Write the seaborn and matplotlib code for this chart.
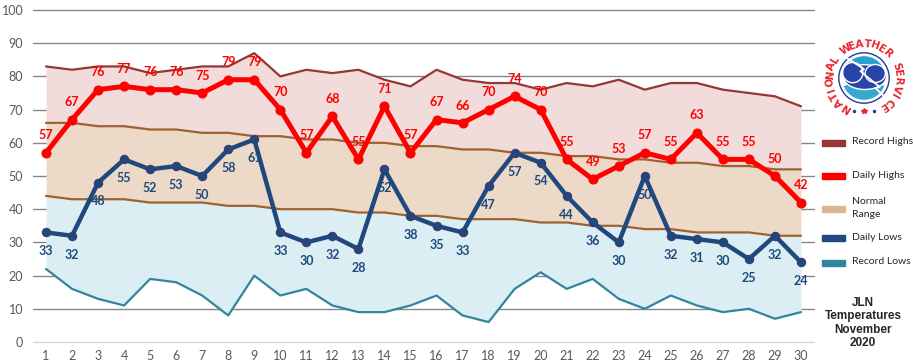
import numpy as np
import pandas as pd
import seaborn as sns
import matplotlib.pyplot as plt
from matplotlib.patches import Circle, Rectangle, Ellipse, Wedge

# Data (JLN, November 2020)
days = list(range(1, 31))
record_highs = [83, 82, 83, 83, 81, 82, 83, 83, 87, 80, 82, 81, 82, 79, 77,
                82, 79, 78, 78, 76, 78, 77, 79, 76, 78, 78, 76, 75, 74, 71]
normal_highs = [66, 66, 65, 65, 64, 64, 63, 63, 62, 62, 61, 61, 60, 60, 59,
                59, 58, 58, 57, 57, 56, 56, 55, 55, 54, 54, 53, 53, 52, 52]
normal_lows = [44, 43, 43, 43, 42, 42, 42, 41, 41, 40, 40, 40, 39, 39, 38,
               38, 37, 37, 37, 36, 36, 35, 35, 34, 34, 33, 33, 33, 32, 32]
record_lows = [22, 16, 13, 11, 19, 18, 14, 8, 20, 14, 16, 11, 9, 9, 11,
               14, 8, 6, 16, 21, 16, 19, 13, 10, 14, 11, 9, 10, 7, 9]
daily_highs = [57, 67, 76, 77, 76, 76, 75, 79, 79, 70, 57, 68, 55, 71, 57,
               67, 66, 70, 74, 70, 55, 49, 53, 57, 55, 63, 55, 55, 50, 42]
daily_lows = [33, 32, 48, 55, 52, 53, 50, 58, 61, 33, 30, 32, 28, 52, 38,
              35, 33, 47, 57, 54, 44, 36, 30, 50, 32, 31, 30, 25, 32, 24]

df = pd.DataFrame({
    "day": days,
    "record_high": record_highs,
    "normal_high": normal_highs,
    "normal_low": normal_lows,
    "record_low": record_lows,
    "daily_high": daily_highs,
    "daily_low": daily_lows,
})

sns.set_theme(style="white")
plt.rcParams["font.family"] = ["Lato", "DejaVu Sans"]

W, H = 913, 364
fig = plt.figure(figsize=(W / 100, H / 100), dpi=100)
ax = fig.add_axes([33 / W, 1 - 342 / H, (814 - 33) / W, (342 - 10) / H])

# shaded bands
ax.fill_between(df["day"], df["record_high"], df["normal_high"], color="#f2dcdb", lw=0)
ax.fill_between(df["day"], df["normal_high"], df["normal_low"], color="#ecd9c7", lw=0)
ax.fill_between(df["day"], df["normal_low"], df["record_low"], color="#dbeef3", lw=0)

sns.lineplot(data=df, x="day", y="record_high", ax=ax, color="#953735", lw=1.6)
sns.lineplot(data=df, x="day", y="normal_high", ax=ax, color="#a0622d", lw=1.6)
sns.lineplot(data=df, x="day", y="normal_low", ax=ax, color="#a0622d", lw=1.6)
sns.lineplot(data=df, x="day", y="record_low", ax=ax, color="#31859c", lw=1.6)
sns.lineplot(data=df, x="day", y="daily_low", ax=ax, color="#1f497d", lw=3.2,
             marker="o", markersize=6, markeredgecolor="#3b3a6e", markeredgewidth=0.8)
sns.lineplot(data=df, x="day", y="daily_high", ax=ax, color="#ff0000", lw=3.6,
             marker="o", markersize=6.5, markeredgecolor="#ff0000")

for d, v in zip(days, daily_highs):
    ax.annotate(str(v), (d, v), xytext=(0, 12.5), textcoords="offset points",
                ha="center", va="center", color="#ff0000", fontsize=9, fontweight="bold")
for d, v in zip(days, daily_lows):
    ax.annotate(str(v), (d, v), xytext=(0, -13.5), textcoords="offset points",
                ha="center", va="center", color="#1f497d", fontsize=9, fontweight="bold")

ax.set_xlim(0.5, 30.5)
ax.set_ylim(0, 100)
ax.set_xticks(days)
ax.set_yticks(range(0, 101, 10))
ax.set_xlabel("")
ax.set_ylabel("")
ax.yaxis.grid(True, color="#868686", lw=1)
ax.xaxis.grid(False)
ax.set_axisbelow(True)
ax.get_ygridlines()[0].set_color("#d9d9d9")
for gl in ax.get_ygridlines():
    gl.set_clip_on(False)
for s in ax.spines.values():
    s.set_visible(False)
ax.tick_params(axis="both", length=0, labelsize=9, colors="#595959")
ax.tick_params(axis="y", pad=7)
ax.tick_params(axis="x", pad=6)

# legend drawn by hand
legend_items = [
    (143, "#953735", 6, "Record Highs"),
    (176, "#ff0000", 6, "Daily Highs"),
    (209, "#dcb691", 6, "Normal\nRange"),
    (238, "#1f497d", 6, "Daily Lows"),
    (263, "#31859c", 6, "Record Lows"),
]
for y, c, h, label in legend_items:
    fig.add_artist(Rectangle((822 / W, 1 - (y + h / 2) / H), 23 / W, h / H,
                             color=c, transform=fig.transFigure))
    fig.text(852 / W, 1 - (y - 1) / H, label, ha="left", va="center",
             fontsize=7.5, color="#262626", linespacing=1.5)

fig.text(863 / W, 1 - 323 / H, "JLN\nTemperatures\nNovember\n2020",
         ha="center", va="center", fontsize=8.5, fontweight="bold",
         family=["Liberation Sans", "DejaVu Sans"], linespacing=1.15)

# rough NWS logo
lax = fig.add_axes([(864 - 45) / W, 1 - (78 + 45) / H, 90 / W, 90 / H])
lax.set_xlim(-1, 1)
lax.set_ylim(-1, 1)
lax.set_aspect("equal")
lax.axis("off")
lax.add_patch(Circle((0, 0), 0.56, facecolor="white", edgecolor="#1f3f99", lw=1))
lax.add_patch(Wedge((0, 0), 0.5, 10, 170, facecolor="#2aa0d0"))
lax.add_patch(Wedge((0, 0), 0.5, 200, 340, facecolor="#35a9cf"))
lax.add_patch(Ellipse((0.02, 0.02), 0.95, 0.55, facecolor="#2744a6"))
lax.add_patch(Ellipse((-0.25, 0.12), 0.45, 0.45, facecolor="#2744a6"))
lax.add_patch(Ellipse((0.25, 0.1), 0.45, 0.4, facecolor="#2744a6"))
lax.plot([-0.55, 0.0, -0.08, 0.35, 0.25, 0.55], [0.55, 0.2, 0.15, -0.2, -0.22, -0.5],
         color="white", lw=1.3)
text = "NATIONAL WEATHER SERVICE"
angles = np.linspace(237, -56, len(text))
for ch, a in zip(text, angles):
    r = 0.76
    lax.text(r * np.cos(np.radians(a)), r * np.sin(np.radians(a)), ch,
             rotation=a - 90, ha="center", va="center", fontsize=7.5,
             fontweight="heavy", color="#e8232b",
             family=["DejaVu Sans"])
lax.plot([-0.22, 0.22], [-0.74, -0.74], "o", color="#1f3f99", markersize=1.5)
lax.plot([0], [-0.74], "*", color="#e8232b", markersize=4)

fig.savefig("out.png", dpi=100)
